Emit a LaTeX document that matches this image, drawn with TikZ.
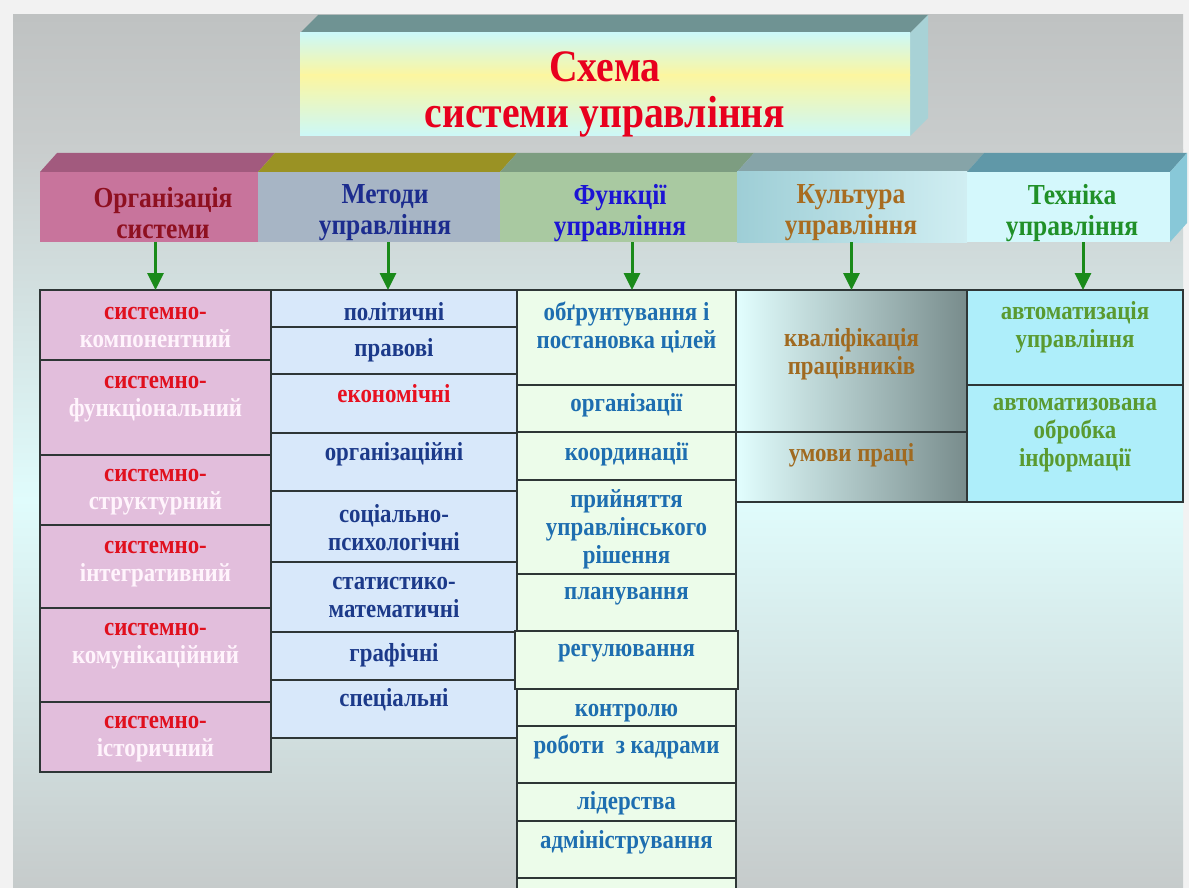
\documentclass[tikz,border=0pt]{standalone}
\usepackage{fontspec}
\setmainfont{Liberation Serif}[FakeStretch=0.88]
\usetikzlibrary{arrows.meta,calc}
\definecolor{outer}{HTML}{F2F2F2}
\definecolor{bgA}{HTML}{BFC2C2}
\definecolor{bgB}{HTML}{C9CDCD}
\definecolor{bgC}{HTML}{E0FCFC}
\definecolor{bgD}{HTML}{C6CBCB}
\definecolor{titletop}{HTML}{6F9393}
\definecolor{titleside}{HTML}{A8D2D6}
\definecolor{titlecyan}{HTML}{CCF8F8}
\definecolor{titleyellow}{HTML}{FCF6A0}
\definecolor{titlered}{HTML}{E8001E}
\definecolor{hAfront}{HTML}{C8749C}
\definecolor{hAtop}{HTML}{A25A7E}
\definecolor{hAtxt}{HTML}{8E1020}
\definecolor{hBfront}{HTML}{A7B5C5}
\definecolor{hBtop}{HTML}{9A9224}
\definecolor{hBtxt}{HTML}{1C2C8E}
\definecolor{hCfront}{HTML}{A9C9A1}
\definecolor{hCtop}{HTML}{7D9D81}
\definecolor{hCtxt}{HTML}{1C14D4}
\definecolor{hDleft}{HTML}{9ECED6}
\definecolor{hDright}{HTML}{D0EEF2}
\definecolor{hDtop}{HTML}{86A4A8}
\definecolor{hDtxt}{HTML}{A86C20}
\definecolor{hEfront}{HTML}{D4F8FC}
\definecolor{hEtop}{HTML}{6098A8}
\definecolor{hEside}{HTML}{88C8D8}
\definecolor{hEtxt}{HTML}{209028}
\definecolor{cAfill}{HTML}{E2BEDC}
\definecolor{cAred}{HTML}{E0101E}
\definecolor{cAwhite}{HTML}{FFF4FC}
\definecolor{cBfill}{HTML}{D8E8FA}
\definecolor{cBtxt}{HTML}{1C3A8A}
\definecolor{cBred}{HTML}{E81020}
\definecolor{cCfill}{HTML}{ECFCEA}
\definecolor{cCtxt}{HTML}{1E6EB0}
\definecolor{cDleft}{HTML}{E2FEFE}
\definecolor{cDright}{HTML}{788C8C}
\definecolor{cDtxt}{HTML}{A06A20}
\definecolor{cEfill}{HTML}{AEEEFA}
\definecolor{cEtxt}{HTML}{5A9A30}
\definecolor{arrgreen}{HTML}{1A8A1A}
\definecolor{edge}{HTML}{2E3636}
\newcommand\mytitlefont{\fontsize{45}{46}\selectfont\bfseries}
\newcommand\myheadfont{\fontsize{29}{31}\selectfont\bfseries}
\newcommand\mycellfont{\fontsize{26}{28}\selectfont\bfseries}
\newcommand\sysn{{\color{cAred}системно-}}
% name, x1, y1, x2, y2, box style, text style, text y, text
\newcommand\mycell[9]{%
  \node[#6, minimum width={(#4)-(#2)}, minimum height={(#5)-(#3)}] (#1) at ({((#2)+(#4))/2},{((#3)+(#5))/2}) {};
  \node[#7] (#1t) at ({((#2)+(#4))/2},#8) {#9};}
\begin{document}
\begin{tikzpicture}[x=1pt,y=-1pt,
  box/.style={draw=edge, line width=1.5pt, inner sep=0pt, outer sep=0pt},
  bA/.style={box, fill=cAfill},
  bB/.style={box, fill=cBfill},
  bC/.style={box, fill=cCfill},
  bD/.style={box, left color=cDleft, right color=cDright},
  bE/.style={box, fill=cEfill},
  ct/.style={font=\mycellfont, align=center, inner sep=0pt},
  tA/.style={ct, text=cAwhite},
  tB/.style={ct, text=cBtxt},
  tBr/.style={ct, text=cBred},
  tC/.style={ct, text=cCtxt},
  tD/.style={ct, text=cDtxt},
  tE/.style={ct, text=cEtxt},
  head/.style={inner sep=0pt, outer sep=0pt, minimum height=70pt},
  ht/.style={font=\myheadfont, align=center, inner sep=0pt},
  arr/.style={draw=arrgreen, line width=3pt, -{Triangle[length=17pt,width=16pt]}, fill=arrgreen}
]
\useasboundingbox (0,0) rectangle (1189,888);
\fill[outer] (0,0) rectangle (1189,888);
\begin{scope}
\clip (0,0) rectangle (1189,888);
% slide background
\shade[top color=bgA, bottom color=bgB] (13,15) rectangle (1183,150.5);
\shade[top color=bgB, bottom color=bgC] (13,150) rectangle (1183,500.5);
\shade[top color=bgC, bottom color=bgD] (13,500) rectangle (1183,888);
% title block
\fill[titletop] (300,33) -- (910,33) -- (928,15) -- (318,15) -- cycle;
\fill[titleside] (910,33) -- (928,15) -- (928,118) -- (910,136) -- cycle;
\shade[top color=titlecyan, bottom color=titleyellow] (300,33) rectangle (910,75.5);
\shade[top color=titleyellow, bottom color=titlecyan] (300,75) rectangle (910,136);
\node[inner sep=0pt, minimum width=610pt, minimum height=103pt] (title) at (605,84.5) {};
\node[font=\mytitlefont, text=titlered, align=center, inner sep=0pt] (titlet) at (605,94) {Схема\\системи управління};
% header tops
\fill[hAtop] (40,172) -- (258,172) -- (275,153) -- (57,153) -- cycle;
\fill[hBtop] (258,172) -- (500,172) -- (517,153) -- (275,153) -- cycle;
\fill[hCtop] (500,172) -- (737,172) -- (754,153) -- (517,153) -- cycle;
\fill[hDtop] (737,172) -- (967,172) -- (984,153) -- (754,153) -- cycle;
\fill[hEtop] (967,172) -- (1170,172) -- (1187,153) -- (984,153) -- cycle;
\fill[hEside] (1170,172) -- (1187,153) -- (1187,223) -- (1170,242) -- cycle;
% header fronts
\node[head, fill=hAfront, minimum width=218pt] (h1) at (149,207) {};
\node[head, fill=hBfront, minimum width=242pt] (h2) at (379,207) {};
\node[head, fill=hCfront, minimum width=237pt] (h3) at (618.5,207) {};
\node[head, left color=hDleft, right color=hDright, minimum width=230pt] (h4) at (852,207) {};
\node[head, fill=hEfront, minimum width=203pt] (h5) at (1068.5,207) {};
\node[ht, text=hAtxt] (h1t) at (163,213) {Організація\\системи};
\node[ht, text=hBtxt] (h2t) at (385,213) {Методи\\управління};
\node[ht, text=hCtxt] (h3t) at (620,213) {Функції\\управління};
\node[ht, text=hDtxt] (h4t) at (851,213) {Культура\\управління};
\node[ht, text=hEtxt] (h5t) at (1072,213) {Техніка\\управління};
% column 1
\mycell{c1a}{40}{290}{271}{360}{bA}{tA}{327.5}{\sysn\\компонентний}
\mycell{c1b}{40}{360}{271}{455}{bA}{tA}{399}{\sysn\\функціональний}
\mycell{c1c}{40}{455}{271}{525}{bA}{tA}{492.5}{\sysn\\структурний}
\mycell{c1d}{40}{525}{271}{608}{bA}{tA}{564}{\sysn\\інтегративний}
\mycell{c1e}{40}{608}{271}{702}{bA}{tA}{646}{\sysn\\комунікаційний}
\mycell{c1f}{40}{702}{271}{772}{bA}{tA}{739}{\sysn\\історичний}
% column 2
\mycell{c2a}{271}{290}{517}{327}{bB}{tB}{312}{політичні}
\mycell{c2b}{271}{327}{517}{374}{bB}{tB}{350}{правові}
\mycell{c2c}{271}{374}{517}{433}{bB}{tBr}{394}{економічні}
\mycell{c2d}{271}{433}{517}{491}{bB}{tB}{454}{організаційні}
\mycell{c2e}{271}{491}{517}{562}{bB}{tB}{528}{соціально-\\психологічні}
\mycell{c2f}{271}{562}{517}{632}{bB}{tB}{597.5}{статистико-\\математичні}
\mycell{c2g}{271}{632}{517}{680}{bB}{tB}{655}{графічні}
\mycell{c2h}{271}{680}{517}{738}{bB}{tB}{700}{спеціальні}
% column 3
\mycell{c3a}{517}{290}{736}{385}{bC}{tC}{327}{обґрунтування і\\постановка цілей}
\mycell{c3b}{517}{385}{736}{432}{bC}{tC}{405}{організації}
\mycell{c3c}{517}{432}{736}{480}{bC}{tC}{454}{координації}
\mycell{c3d}{517}{480}{736}{574}{bC}{tC}{529}{прийняття\\управлінського\\рішення}
\mycell{c3e}{517}{574}{736}{631}{bC}{tC}{596}{планування}
\mycell{c3f}{515}{631}{738}{689}{bC}{tC}{653}{регулювання}
\mycell{c3g}{517}{689}{736}{726}{bC}{tC}{713}{контролю}
\mycell{c3h}{517}{726}{736}{783}{bC}{tC}{747}{роботи\ \ з кадрами}
\mycell{c3i}{517}{783}{736}{821}{bC}{tC}{803}{лідерства}
\mycell{c3j}{517}{821}{736}{878}{bC}{tC}{842}{адміністрування}
\node[bC, minimum width=219pt, minimum height=40pt] (c3k) at (626.5,898) {};
% column 4
\mycell{c4a}{736}{290}{967}{432}{bD}{tD}{354}{кваліфікація\\працівників}
\mycell{c4b}{736}{432}{967}{502}{bD}{tD}{455}{умови праці}
% column 5
\mycell{c5a}{967}{290}{1183}{385}{bE}{tE}{327}{автоматизація\\управління}
\mycell{c5b}{967}{385}{1183}{502}{bE}{tE}{435}{автоматизована\\обробка\\інформації}
% arrows
\draw[arr] (c1a.north |- h1.south) -- (c1a.north);
\draw[arr] ($(c2a.north |- h2.south)+(-6,0)$) -- ($(c2a.north)+(-6,0)$);
\draw[arr] ($(c3a.north |- h3.south)+(5.5,0)$) -- ($(c3a.north)+(5.5,0)$);
\draw[arr] (c4a.north |- h4.south) -- (c4a.north);
\draw[arr] ($(c5a.north |- h5.south)+(8,0)$) -- ($(c5a.north)+(8,0)$);
\end{scope}
\end{tikzpicture}
\end{document}
